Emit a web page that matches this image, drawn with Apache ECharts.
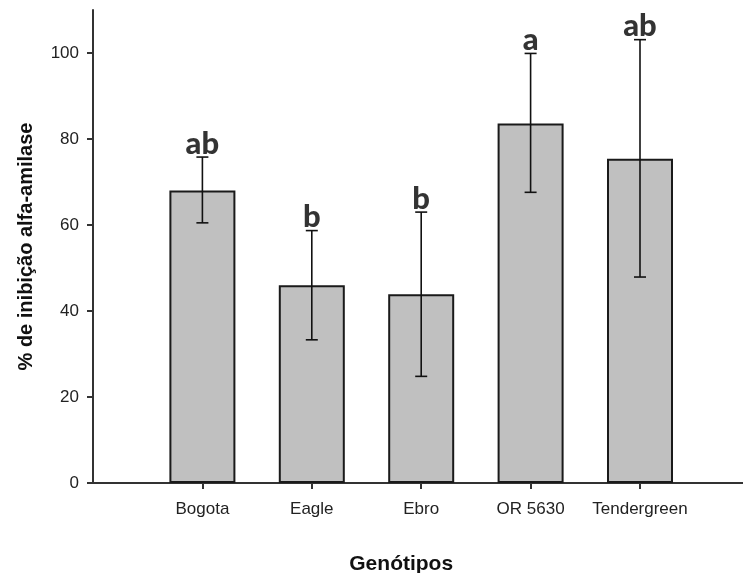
<!DOCTYPE html>
<html>
<head>
<meta charset="utf-8">
<script src="https://cdn.jsdelivr.net/npm/echarts@6/dist/echarts.min.js"></script>
<style>
html,body{margin:0;padding:0;background:#fff;}
#chart{width:743px;height:573px;}
</style>
</head>
<body>
<div id="chart"></div>
<script>
var categories = ['Bogota', 'Eagle', 'Ebro', 'OR 5630', 'Tendergreen'];
var means = [68.0, 46.0, 43.9, 83.6, 75.4];
var errLow = [60.5, 33.3, 24.8, 67.6, 47.9];
var errHigh = [75.8, 58.7, 63.0, 99.9, 103.1];
var letters = ['ab', 'b', 'b', 'a', 'ab'];
var yTicks = [0, 20, 40, 60, 80, 100];

var axisCats = [''].concat(categories).concat(['']);

var chart = echarts.init(document.getElementById('chart'), null, {renderer: 'canvas'});

var errData = categories.map(function (c, i) { return [c, errLow[i], errHigh[i]]; });
var letterData = categories.map(function (c, i) { return [c, errHigh[i]]; });

var option = {
  animation: false,
  backgroundColor: '#ffffff',
  grid: {left: 93, top: 10, right: -6.4, bottom: 90, containLabel: false, outerBoundsMode: 'none'},
  xAxis: {
    type: 'category',
    data: axisCats,
    boundaryGap: false,
    name: 'Genótipos',
    nameLocation: 'middle',
    nameGap: 71,
    nameTextStyle: {fontFamily: 'Liberation Sans', fontWeight: 'bold', fontSize: 21, color: '#111', padding: [0, 40, 0, 0]},
    axisLine: {lineStyle: {color: '#333', width: 2}},
    axisTick: {
      show: true, length: 6, inside: false,
      lineStyle: {color: '#333', width: 2},
      alignWithLabel: true,
      interval: function (idx, val) { return val !== ''; }
    },
    axisLabel: {
      fontFamily: 'Liberation Sans', fontSize: 17, color: '#222', margin: 18,
      interval: function (idx, val) { return val !== ''; }
    },
    splitLine: {show: false}
  },
  yAxis: {
    type: 'value',
    min: 0,
    max: 110,
    name: '% de inibição alfa-amilase',
    nameLocation: 'middle',
    nameGap: 57,
    nameTextStyle: {fontFamily: 'Liberation Sans', fontWeight: 'bold', fontSize: 20, color: '#111'},
    axisLine: {show: true, lineStyle: {color: '#333', width: 2}},
    axisTick: {show: true, length: 6, lineStyle: {color: '#333', width: 2}, customValues: yTicks},
    axisLabel: {fontFamily: 'Liberation Sans', fontSize: 17, color: '#222', margin: 14, customValues: yTicks},
    splitLine: {show: false}
  },
  series: [
    {
      type: 'bar',
      data: categories.map(function (c, i) { return [c, means[i]]; }),
      barWidth: 66,
      itemStyle: {color: '#c0c0c0', borderColor: '#1a1a1a', borderWidth: 2},
      silent: true
    },
    {
      type: 'custom',
      data: errData,
      encode: {x: 0, y: [1, 2]},
      z: 5,
      silent: true,
      renderItem: function (params, api) {
        var x = api.value(0);
        var lo = api.coord([x, api.value(1)]);
        var hi = api.coord([x, api.value(2)]);
        var hw = 6;
        var st = {stroke: '#111', lineWidth: 1.6};
        return {
          type: 'group',
          children: [
            {type: 'line', shape: {x1: lo[0], y1: lo[1], x2: hi[0], y2: hi[1]}, style: st},
            {type: 'line', shape: {x1: lo[0] - hw, y1: lo[1], x2: lo[0] + hw, y2: lo[1]}, style: st},
            {type: 'line', shape: {x1: hi[0] - hw, y1: hi[1], x2: hi[0] + hw, y2: hi[1]}, style: st}
          ]
        };
      }
    },
    {
      type: 'scatter',
      data: letterData,
      symbolSize: 0,
      silent: true,
      z: 6,
      label: {
        show: true,
        position: 'top',
        distance: -2,
        fontFamily: 'Lato',
        fontWeight: 900,
        fontSize: 31,
        color: '#000',
        formatter: function (p) { return letters[p.dataIndex]; }
      }
    }
  ]
};
chart.setOption(option);
</script>
</body>
</html>
